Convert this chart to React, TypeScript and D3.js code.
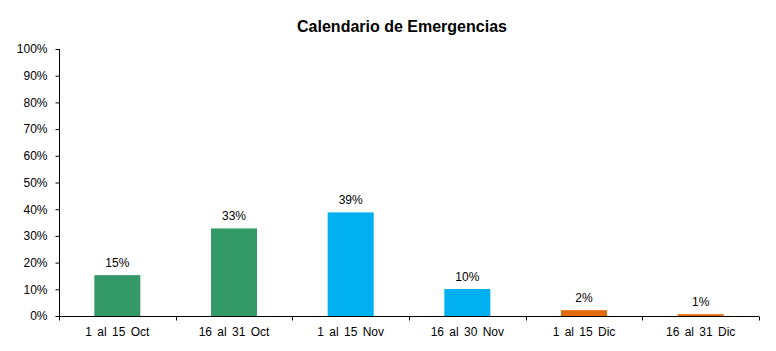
import * as d3 from 'd3';
import { useEffect, useRef } from 'react';

const categories = [
  '1 al 15 Oct',
  '16 al 31 Oct',
  '1 al 15 Nov',
  '16 al 30 Nov',
  '1 al 15 Dic',
  '16 al 31 Dic',
];
const values = [0.153, 0.328, 0.388, 0.101, 0.022, 0.007];
const colors = ['#339966', '#339966', '#00b0f0', '#00b0f0', '#e46c0a', '#e46c0a'];
const yTicks = [0, 0.1, 0.2, 0.3, 0.4, 0.5, 0.6, 0.7, 0.8, 0.9, 1];

export default function App() {
  const w = 776;
  const h = 351;
  const svgRef = useRef<SVGSVGElement>(null);

  useEffect(() => {
    if (svgRef.current == null) {
      return;
    }
    const font = 'Arial, "Liberation Sans", sans-serif';
    const svg = d3.select(svgRef.current);
    svg.selectAll('*').remove();

    const xScale = d3.scaleBand().domain(categories).range([59, 759]);
    const yScale = d3.scaleLinear().domain([0, 1]).range([316, 49]);

    svg
      .append('text')
      .attr('x', 402)
      .attr('y', 32)
      .attr('text-anchor', 'middle')
      .style('font', `bold 16px ${font}`)
      .text('Calendario de Emergencias');

    // bars
    const barW = 46;
    categories.forEach((c, i) => {
      const cx = (xScale(c) ?? 0) + xScale.bandwidth() / 2;
      svg
        .append('rect')
        .attr('x', cx - barW / 2)
        .attr('y', yScale(values[i]))
        .attr('width', barW)
        .attr('height', yScale(0) - yScale(values[i]))
        .attr('fill', colors[i]);

      svg
        .append('text')
        .attr('x', cx)
        .attr('y', yScale(values[i]) - 8)
        .attr('text-anchor', 'middle')
        .style('font', `12px ${font}`)
        .text(`${Math.round(values[i] * 100)}%`);
    });

    // y axis
    const yAxis = d3
      .axisLeft(yScale)
      .tickValues(yTicks)
      .tickSize(4)
      .tickPadding(8)
      .tickFormat((d) => `${Math.round(+d * 100)}%`);
    const gy = svg.append('g').attr('transform', 'translate(59.5, 0)').call(yAxis);
    gy.select('.domain').attr('d', `M0,${yScale(1)}V${yScale(0)}`);
    gy.selectAll('text').style('font', `12px ${font}`).attr('fill', '#000');
    gy.selectAll('line, path').attr('stroke', '#000');

    // x axis with ticks at category boundaries
    const gx = svg.append('g').attr('transform', `translate(0, ${yScale(0) + 0.5})`);
    gx.append('line')
      .attr('x1', 59)
      .attr('x2', 759)
      .attr('stroke', '#000');
    const bounds = [...categories.map((c) => xScale(c) ?? 0), 759];
    bounds.forEach((b) => {
      gx.append('line')
        .attr('x1', Math.round(b) + 0.5)
        .attr('x2', Math.round(b) + 0.5)
        .attr('y1', 0)
        .attr('y2', 4)
        .attr('stroke', '#000');
    });
    categories.forEach((c) => {
      gx.append('text')
        .attr('x', (xScale(c) ?? 0) + xScale.bandwidth() / 2)
        .attr('y', 19)
        .attr('text-anchor', 'middle')
        .style('font', `12px ${font}`)
        .style('word-spacing', '2px')
        .text(c);
    });
  }, []);

  return (
    <svg
      ref={svgRef}
      width={w}
      height={h}
      style={{ position: 'absolute', left: 0, top: 0, background: '#fff' }}
    ></svg>
  );
}
